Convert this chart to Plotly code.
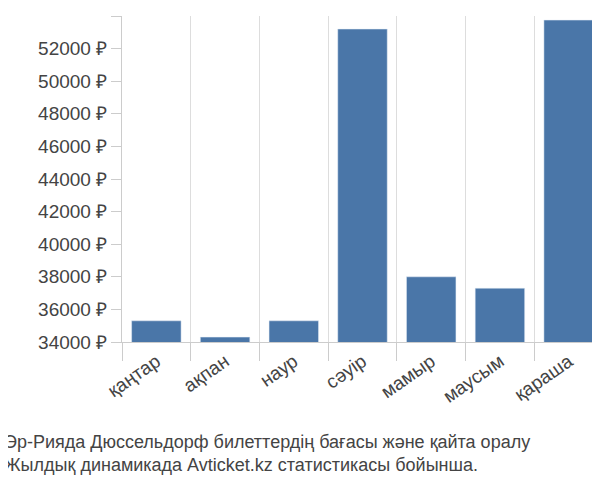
import plotly.graph_objects as go

months = ["қаңтар", "ақпан", "наур", "сәуір", "мамыр", "маусым", "қараша"]
prices = [35300, 34300, 35300, 53200, 38000, 37300, 53750]
yticks = list(range(34000, 54001, 2000))
ylabels = [f"{v} ₽" for v in yticks]

x = list(range(len(months)))
fig = go.Figure(go.Bar(x=x, y=prices, marker_color="#4a76a8", width=0.72))
fig.update_layout(
    width=600, height=500, plot_bgcolor="white", paper_bgcolor="white",
    margin=dict(l=114, r=5, t=8, b=166), showlegend=False,
    font=dict(family="Liberation Sans, Arial", size=19, color="#444"),
)
fig.update_xaxes(range=[-0.5, 6.5], tickvals=x, ticktext=months, tickangle=-35,
                 showgrid=False, ticks="", showline=True, linecolor="#ccc",
                 minor=dict(tickvals=[i - 0.5 for i in range(8)], showgrid=True,
                            gridcolor="#ddd", ticks="outside", ticklen=18, tickcolor="#ccc"))
fig.update_yaxes(range=[34000, 54000], tickvals=yticks, ticktext=ylabels,
                 showgrid=False, ticks="outside", ticklen=10, tickcolor="#ccc",
                 showline=True, linecolor="#ccc")
fig.add_annotation(text="Эр-Рияда Дюссельдорф билеттердің бағасы және қайта оралу<br>Жылдық динамикада Avticket.kz статистикасы бойынша.",
                   xref="paper", yref="paper", x=-0.25, y=-0.27, xanchor="left", yanchor="top",
                   showarrow=False, align="left", font=dict(size=18, color="#444"))
fig.write_html("out.html")
